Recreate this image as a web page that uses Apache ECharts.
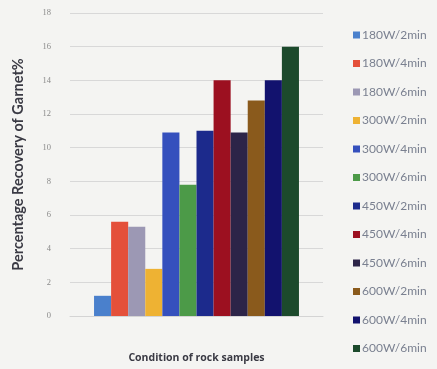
<!DOCTYPE html>
<html><head><meta charset="utf-8">
<script src="https://cdn.jsdelivr.net/npm/echarts@6/dist/echarts.min.js"></script>
<style>html,body{margin:0;padding:0;background:#f4f4f2}#c{width:437px;height:369px}</style>
</head><body><div id="c"></div>
<script>
const seriesNames = ['180W/2min','180W/4min','180W/6min','300W/2min','300W/4min','300W/6min','450W/2min','450W/4min','450W/6min','600W/2min','600W/4min','600W/6min'];
const seriesValues = [1.2, 5.6, 5.3, 2.8, 10.9, 7.8, 11.0, 14.0, 10.9, 12.8, 14.0, 16.0];
const seriesColors = ['#4a80cc','#e4503a','#9c98b4','#eeb233','#3550bd','#4c9a48','#1c2a8c','#9c1020','#2c2448','#8a5a1c','#12126e','#1c4a2c'];
const yTicks = [0,2,4,6,8,10,12,14,16,18];
const categories = [''];

const chart = echarts.init(document.getElementById('c'));
chart.setOption({
  backgroundColor: '#f4f4f2',
  animation: false,
  grid: {left: 70, right: 114, top: 13, bottom: 52},
  legend: {
    type: 'plain', orient: 'vertical', left: 348, top: 24, height: 345,
    itemWidth: 7, itemHeight: 7, itemGap: 16.5,
    icon: 'rect',
    textStyle: {color: '#7a8090', fontSize: 12, fontFamily: 'Lato', padding: [0,0,0,-3]},
    data: seriesNames
  },
  xAxis: {
    type: 'category', data: categories,
    name: 'Condition of rock samples', nameLocation: 'middle', nameGap: 37,
    nameTextStyle: {color: '#3a3a44', fontSize: 10.5, fontWeight: 'bold', fontFamily: 'Open Sans'},
    axisLine: {lineStyle: {color: '#d4d4d4'}}, axisTick: {show: false}, axisLabel: {show: false}
  },
  yAxis: {
    type: 'value', min: yTicks[0], max: yTicks[yTicks.length-1], interval: 2,
    name: 'Percentage Recovery of Garnet%', nameLocation: 'middle', nameGap: 44,
    nameTextStyle: {color: '#3a3a44', fontSize: 14.5, fontWeight: 'bold', fontFamily: 'Lato'},
    axisLine: {show: false}, axisTick: {show: false},
    axisLabel: {color: '#8a8a8a', fontSize: 8.5, fontFamily: 'Liberation Serif', margin: 19},
    splitLine: {lineStyle: {color: '#d8d8d8', width: 1}}
  },
  series: seriesNames.map((n, i) => ({
    name: n, type: 'bar', data: [seriesValues[i]],
    barGap: '0%', barCategoryGap: '19%',
    itemStyle: {color: seriesColors[i]}
  }))
});
</script></body></html>
